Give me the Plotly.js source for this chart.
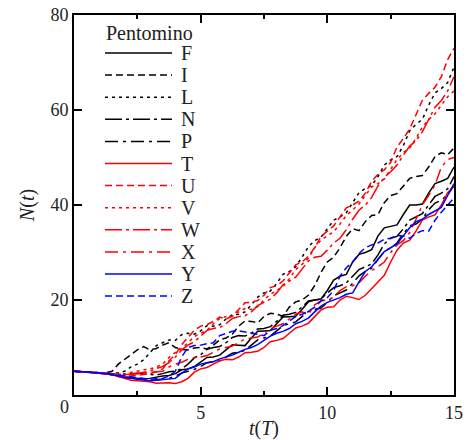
<!DOCTYPE html>
<html><head><meta charset="utf-8">
<script src="https://cdn.plot.ly/plotly-3.0.1.min.js"></script>
<style>html,body{margin:0;padding:0;background:#fff}#chart{width:466px;height:440px}</style>
</head><body><div id="chart"></div>
<script>
const t = [0,0.25,0.5,0.75,1,1.25,1.5,1.75,2,2.25,2.5,2.75,3,3.25,3.5,3.75,4,4.25,4.5,4.75,5,5.25,5.5,5.75,6,6.25,6.5,6.75,7,7.25,7.5,7.75,8,8.25,8.5,8.75,9,9.25,9.5,9.75,10,10.25,10.5,10.75,11,11.25,11.5,11.75,12,12.25,12.5,12.75,13,13.25,13.5,13.75,14,14.25,14.5,14.75,15];

const F = [5,4.9, 4.9,4.8, 4.7,4.5, 4.3,4.0, 3.8,3.6, 3.5,3.4, 3.5,3.8, 4,4.1, 4.5,5.3, 5.5,6.0, 7,7.9, 8,8.4, 9.5,10.6, 10.5,10.4, 12,13.4, 13.5,13.6, 15,16.4, 16.5,16.6, 18,19.6, 20,20.2, 22,24.2, 25,25.4, 28,29.6, 30,30.6, 33.5,35.2, 35.5,35.8, 38,40, 40,40.2, 42.5,44.5, 45,45.6, 48];
const I = [5,4.9, 4.9,4.8, 4.7,4.7, 5,6.5, 7.5,8.5, 9.5,10.2, 9.5,9.8, 10.5,11, 10,9.6, 9.5,9.9, 10,9.7, 10.5,11.6, 12,12.8, 14.5,15.6, 15.5,15.2, 16.5,17.2, 17,16.6, 18.5,19.6, 20,21, 23,25.8, 28,29, 31,33.4, 35,34.6, 36.5,37.8, 38,40.5, 42,42.4, 44,45.6, 46,46.2, 48,50.2, 51,50.6, 52];
const L = [5,4.9, 4.9,4.8, 4.7,4.6, 4.5,4.7, 5,5.9, 6.5,7.4, 9,10.4, 11,11.6, 11.5,12.7, 13,12.8, 13.5,14.6, 14.5,14.8, 16,16.9, 17,17.5, 19,20.6, 21.5,21.9, 23.5,25.4, 26,27, 29,31.2, 32.5,33.2, 35,36.8, 37.5,38.4, 40.5,42.6, 43.5,44.1, 46,48.4, 49.5,50.2, 52.5,55.6, 57,58, 61,63.6, 64.5,65.8, 69];
const N = [5,4.9, 4.9,4.8, 4.7,4.6, 4.5,4.2, 4.2,4.5, 4.6,4.4, 4.3,4.2, 4.5,4.9, 5,5.5, 6.5,7.8, 8.5,9.6, 10,10.2, 11,12.1, 12.5,12.4, 13,13.9, 14,14.4, 15.5,16.8, 17,17.4, 18.5,19.8, 20,20.2, 21.5,22.6, 23,23.6, 25,26.4, 27,27.6, 29.5,31.8, 33,33.4, 35,36.8, 37.5,38.2, 40,41.8, 42.5,43.4, 46];
const P = [5,4.95, 4.9,4.7, 4.6,4.5, 4.2,3.9, 3.8,3.6, 3.3,3.1, 3,3.2, 3.3,3.5, 4,4.6, 5,5.4, 6,6.8, 7,7.2, 8,8.8, 9,9.4, 10.5,11.6, 12,12.4, 13.5,14.6, 15,15.4, 16.5,17.6, 18,18.3, 19.5,20.9, 21.5,22.1, 23.5,25.1, 26,26.7, 28.5,30.2, 31,32, 34,35.6, 36,37, 39,40.4, 41,42.2, 44];
const T = [5,4.9, 4.9,4.8, 4.7,4.4, 4.3,3.9, 3.5,3.1, 3,2.9, 2.8,2.5, 2.5,2.6, 2.4,2.8, 3.5,4.8, 5.5,5.8, 6.5,7.2, 7.5,7.4, 8,8.9, 9,9.2, 10,11.2, 11.5,11.9, 13,14.1, 14.5,15.1, 16.5,17.9, 18.5,18.6, 20,20.8, 20.5,20.1, 21,22.4, 24,25.2, 28,30.5, 32,32.6, 34.5,36.8, 37.5,37.9, 40,42.6, 44];
const U = [5,4.9, 4.9,4.8, 4.7,4.5, 4.3,4.1, 4,4.0, 4.2,4.4, 4.5,4.9, 5.5,7.2, 8.5,10.6, 12,13.6, 14.5,14.8, 15.5,16.4, 16,16.6, 18,19.4, 19.5,19.9, 21,22.6, 23,24.0, 25.7,27.4, 28,29.2, 31,33.4, 34.5,35.6, 37.5,39.4, 40,40.8, 42.5,45.0, 46.5,47.4, 49,52.2, 54,56.0, 59,62.0, 63.5,64.8, 67,70.6, 73];
const V = [5,4.85, 4.9,4.7, 4.6,4.5, 4.4,4.4, 4.5,4.8, 5,5.3, 5.5,5.9, 6.5,7.9, 9,9.8, 11,12.3, 13,13.6, 15,16.1, 16.5,16.6, 17.5,18.2, 18,18.6, 20,21.2, 22,22.8, 24.5,26.4, 27.5,28.8, 31,32.6, 33.5,34.4, 36,37.8, 39,40.2, 42,43.8, 44.5,45.5, 47.5,49.6, 51,52.0, 54,56.4, 58,59.2, 61,62.8, 64];
const W = [5,4.95, 4.9,4.85, 4.8,4.6, 4.4,4.3, 4.2,4.3, 4.5,4.7, 5,5.6, 6,6.8, 8,9.5, 10.5,11.2, 12.5,13.6, 14,14.2, 15,16.1, 16.5,16.7, 17.5,18.8, 19.5,20.2, 21.5,23.2, 24,24.8, 26.5,28.2, 29,29.2, 30.5,32.0, 33,34.8, 37,38.9, 40,41.6, 44,45.8, 47,48.4, 50.5,52.4, 53.5,55.4, 58,60.6, 62,64.0, 67];
const X = [5,4.9, 4.9,4.8, 4.7,4.6, 4.5,4.4, 4.3,4.4, 4.5,4.7, 4.8,4.8, 5,5.9, 6.5,6.9, 7.5,7.9, 8,8.3, 9,9.7, 10,10.3, 11,11.8, 12,12.2, 13,14, 14.5,15, 16,17, 17.5,16.9, 19,19.8, 20,20.6, 22,22.8, 23,23.6, 25,26.2, 27,28.0, 30,31.6, 32.5,34.2, 37,40.0, 42,44.2, 48,49.6, 50];
const Y = [5,4.95, 4.9,4.8, 4.7,4.5, 4.3,4.0, 3.7,3.5, 3.4,3.2, 3,3.1, 3.2,3.4, 3.5,4.6, 5.5,5.9, 6.5,6.8, 7,7.6, 8,8.4, 9,9.6, 10,10.6, 11.5,12.4, 13,13.4, 14,15.0, 15.5,16.2, 17.5,18.7, 19.5,20.0, 20.5,21.2, 21.5,23.8, 26,27.0, 28.5,30.2, 31,31.8, 33.5,35.2, 36.5,37.0, 38,38.8, 39.5,42.0, 44.5];
const Z = [5,4.9, 4.9,4.8, 4.7,4.5, 4.4,4.2, 4,3.8, 3.6,3.4, 3.3,3.4, 3.5,4.0, 5,8.0, 10,10.4, 10.5,10.8, 11,12.5, 13,13.4, 13.5,13.2, 13,12.8, 12.5,13.6, 14,14.6, 15.5,16.5, 17,17.6, 18.5,19.8, 20.5,22.0, 25,26.8, 28,29.8, 31,31.6, 32,32.8, 33,33.6, 33.5,33.0, 34,34.6, 34.5,36.8, 38.5,40.0, 41.5];

const names = ['F','I','L','N','P','T','U','V','W','X','Y','Z'];
const series = [F,I,L,N,P,T,U,V,W,X,Y,Z];
const colors = ['#000000','#000000','#000000','#000000','#000000','#ff0000','#ff0000','#ff0000','#ff0000','#ff0000','#0000ff','#0000ff'];
const dashes = ['solid','7px,4px','3px,4px','17px,4px,3px,4px','13px,5px,3px,5px','solid','7px,4px','3px,4px','17px,4px,3px,4px','13px,5px,3px,5px','solid','7px,4px'];
const legendTitle = 'Pentomino';

const FONT = 'Liberation Serif, Times New Roman, serif';

const traces = series.map((s, i) => ({
  x: t, y: s, type: 'scatter', mode: 'lines', name: names[i],
  line: {color: colors[i], width: 1.5, dash: dashes[i]},
  showlegend: false, hoverinfo: 'skip'
}));

// custom legend (paper coords)
const W0 = 380, Y0 = 395;
const px2x = p => (p - 74) / W0;
const px2y = p => (Y0 - p) / W0;
const shapes = [], annotations = [];
names.forEach((n, i) => {
  const yp = px2y(53 + 22.1 * i);
  shapes.push({type: 'line', xref: 'paper', yref: 'paper', x0: px2x(105), x1: px2x(172), y0: yp, y1: yp,
    line: {color: colors[i], width: 1.5, dash: dashes[i]}});
  annotations.push({xref: 'paper', yref: 'paper', x: px2x(179), y: yp, xanchor: 'left', yanchor: 'middle',
    text: n, showarrow: false, font: {family: FONT, size: 20, color: '#222'}});
});
annotations.push({xref: 'paper', yref: 'paper', x: px2x(104), y: px2y(33), xanchor: 'left', yanchor: 'middle',
  text: legendTitle, showarrow: false, font: {family: FONT, size: 20, color: '#222'}});
annotations.push({xref: 'paper', yref: 'paper', x: px2x(64), y: px2y(407), xanchor: 'center', yanchor: 'middle',
  text: '0', showarrow: false, font: {family: FONT, size: 18, color: '#222'}});

const layout = {
  width: 466, height: 440,
  margin: {l: 74, r: 12, t: 15, b: 45, pad: 0},
  paper_bgcolor: '#fff', plot_bgcolor: '#fff',
  font: {family: FONT, size: 18, color: '#222'},
  xaxis: {
    range: [0, 15], tickvals: [0, 5, 10, 15], ticktext: ['', '5', '10', '15'],
    ticks: 'inside', ticklen: 8, tickwidth: 2, tickcolor: '#000',
    minor: {tickvals: [2.5, 7.5, 12.5], ticks: 'inside', ticklen: 4, tickwidth: 2, tickcolor: '#000'},
    showline: true, linecolor: '#000', linewidth: 2, mirror: 'ticks',
    showgrid: false, zeroline: false,
    tickfont: {family: FONT, size: 18, color: '#222'},
    title: {text: '<i>t</i>(<i>T</i>)', font: {family: FONT, size: 20, color: '#222'}, standoff: 8}
  },
  yaxis: {
    range: [0, 80], tickvals: [0, 20, 40, 60, 80], ticktext: ['', '20', '40', '60', '80'],
    ticks: 'inside', ticklen: 8, tickwidth: 2, tickcolor: '#000',
    showline: true, linecolor: '#000', linewidth: 2, mirror: 'ticks',
    showgrid: false, zeroline: false,
    tickfont: {family: FONT, size: 18, color: '#222'},
    title: {text: '<i>N</i>(<i>t</i>)', font: {family: FONT, size: 20, color: '#222'}, standoff: 10}
  },
  shapes: shapes,
  annotations: annotations,
  showlegend: false
};

Plotly.newPlot('chart', traces, layout, {staticPlot: true, displayModeBar: false});
</script>
</body></html>
